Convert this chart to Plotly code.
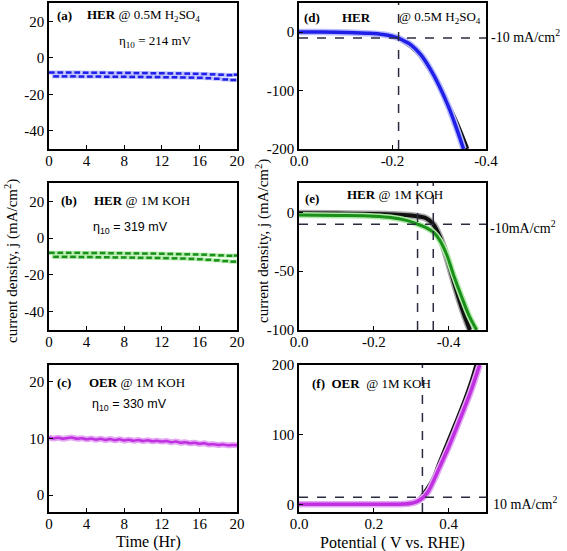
import plotly.graph_objects as go

# ---------------- data ----------------
# (a) HER @ 0.5M H2SO4 stability
ta_top = [0.3, 1.2, 2.1, 3.0, 3.9, 4.8, 5.7, 6.6, 7.5, 8.4, 9.3, 10.2, 11.1, 12.0, 12.9, 13.8, 14.7, 15.6, 16.5, 17.4, 18.3, 19.2, 19.95]
ja_top = [-8.1, -8.1, -8.1, -8.1, -8.2, -8.2, -8.2, -8.3, -8.3, -8.3, -8.4, -8.4, -8.5, -8.5, -8.6, -8.6, -8.7, -8.8, -8.9, -9.1, -9.3, -9.5, -9.3]
ta_bot = [0.75, 1.65, 2.55, 3.45, 4.35, 5.25, 6.15, 7.05, 7.95, 8.85, 9.75, 10.65, 11.55, 12.45, 13.35, 14.25, 15.15, 16.05, 16.95, 17.85, 18.75, 19.6]
ja_bot = [-10.2, -10.2, -10.2, -10.3, -10.3, -10.3, -10.4, -10.4, -10.4, -10.5, -10.5, -10.6, -10.6, -10.7, -10.7, -10.8, -10.9, -11.0, -11.2, -11.5, -11.9, -12.2]

# (b) HER @ 1M KOH stability
tb_top = [0.3, 1.2, 2.1, 3.0, 3.9, 4.8, 5.7, 6.6, 7.5, 8.4, 9.3, 10.2, 11.1, 12.0, 12.9, 13.8, 14.7, 15.6, 16.5, 17.4, 18.3, 19.2, 19.95]
jb_top = [-8.0, -8.0, -8.0, -8.0, -8.1, -8.1, -8.1, -8.2, -8.2, -8.3, -8.3, -8.4, -8.4, -8.5, -8.6, -8.7, -8.8, -8.9, -9.0, -9.2, -9.4, -9.6, -9.5]
tb_bot = [0.75, 1.65, 2.55, 3.45, 4.35, 5.25, 6.15, 7.05, 7.95, 8.85, 9.75, 10.65, 11.55, 12.45, 13.35, 14.25, 15.15, 16.05, 16.95, 17.85, 18.75, 19.6]
jb_bot = [-10.2, -10.2, -10.2, -10.3, -10.3, -10.4, -10.4, -10.5, -10.5, -10.6, -10.7, -10.7, -10.8, -10.9, -11.0, -11.1, -11.3, -11.5, -11.8, -12.1, -12.5, -12.8]

# (c) OER @ 1M KOH stability
tc = [0, 0.5, 1.0, 1.5, 2.0, 2.5, 3.0, 3.5, 4.0, 4.5, 5.0, 5.5, 6.0, 6.5, 7.0, 7.5, 8.0, 8.5, 9.0, 9.5, 10.0,
      10.5, 11.0, 11.5, 12.0, 12.5, 13.0, 13.5, 14.0, 14.5, 15.0, 15.5, 16.0, 16.5, 17.0, 17.5, 18.0, 18.5, 19.0, 19.5, 20.0]
jc = [10.2, 10.0, 10.15, 9.95, 10.1, 10.15, 9.95, 10.05, 9.85, 10.0, 9.8, 9.95, 9.75, 9.9, 9.7, 9.85, 9.65, 9.8, 9.6, 9.75, 9.55,
      9.7, 9.5, 9.6, 9.45, 9.55, 9.35, 9.45, 9.25, 9.35, 9.15, 9.25, 9.05, 9.15, 8.95, 9.0, 8.85, 8.95, 8.8, 8.85, 8.8]

# (d) HER LSV @ 0.5M H2SO4
vd_blue = [0, -0.05, -0.10, -0.15, -0.18, -0.20, -0.213, -0.225, -0.24, -0.26, -0.28, -0.30, -0.32, -0.335, -0.352]
jd_blue = [0.5, 0.3, -0.5, -2, -4, -7, -10, -15, -22, -38, -62, -92, -128, -160, -200]
vd_black = [0, -0.05, -0.10, -0.15, -0.18, -0.20, -0.213, -0.225, -0.24, -0.26, -0.28, -0.30, -0.32, -0.34, -0.36]
jd_black = [0, -0.2, -0.8, -2.5, -5, -8, -11, -17, -25, -41, -65, -93, -125, -160, -200]
eta_d = -0.213

# (e) HER LSV @ 1M KOH
ve_black = [0, -0.1, -0.2, -0.25, -0.3, -0.32, -0.34, -0.359, -0.377, -0.395, -0.413, -0.43, -0.445, -0.457]
je_black = [-0.8, -1.0, -1.3, -1.7, -2.7, -3.5, -5.0, -10, -21, -38, -58, -76, -90, -100]
ve_green = [0, -0.1, -0.2, -0.25, -0.29, -0.317, -0.34, -0.36, -0.377, -0.395, -0.413, -0.435, -0.455, -0.475]
je_green = [-2.3, -2.6, -3.2, -4.5, -7, -10, -13, -17, -24, -36, -53, -72, -88, -100]
eta_e = [-0.317, -0.359]

# (f) OER LSV @ 1M KOH
vf_black = [0, 0.1, 0.2, 0.25, 0.28, 0.30, 0.315, 0.326, 0.34, 0.36, 0.375, 0.40, 0.42, 0.44, 0.46, 0.474]
jf_black = [0, 0, 0, 0.2, 0.7, 2, 5, 10, 20, 38, 59, 92, 118, 145, 175, 200]
vf_violet = [0, 0.1, 0.2, 0.25, 0.28, 0.30, 0.315, 0.33, 0.345, 0.36, 0.375, 0.40, 0.42, 0.44, 0.46, 0.483]
jf_violet = [0, 0, 0, 0.1, 0.5, 1.5, 4, 9, 18, 34, 52, 82, 108, 135, 163, 200]
eta_f = 0.33

# ---------------- styles ----------------
W, H = 567, 551
SERIF = "Liberation Serif, Times New Roman, serif"
SANS = "Liberation Sans, Arial, sans-serif"
BLUE, BLUE_L = "#1f1fe8", "#b8bcff"
GREEN, GREEN_L = "#1a8f1a", "#b0eaa8"
VIOL, VIOL_L = "#c030e0", "#e4a8f4"
DASH = "#2b2b40"


def xd(l, r):
    return [l / W, r / W]


def yd(t, b):
    return [1 - b / H, 1 - t / H]


LEFT = xd(49, 237)
RIGHT = xd(299, 486)
ROW1 = yd(3, 149)
ROW2 = yd(183, 330)
ROW3 = yd(365, 512)

fig = go.Figure()


def dashes(x, y, col, colL, ax):
    fig.add_trace(go.Scatter(x=x, y=y, mode="markers", xaxis="x" + ax, yaxis="y" + ax,
                             marker=dict(symbol="line-ew", size=6, line=dict(width=4, color=colL)),
                             showlegend=False, hoverinfo="skip"))
    fig.add_trace(go.Scatter(x=x, y=y, mode="markers", xaxis="x" + ax, yaxis="y" + ax,
                             marker=dict(symbol="line-ew", size=4, line=dict(width=2.5, color=col)),
                             showlegend=False, hoverinfo="skip"))


dashes(ta_top, ja_top, BLUE, BLUE_L, "")
dashes(ta_bot, ja_bot, BLUE, BLUE_L, "")
dashes(tb_top, jb_top, GREEN, GREEN_L, "2")
dashes(tb_bot, jb_bot, GREEN, GREEN_L, "2")

fig.add_trace(go.Scatter(x=tc, y=jc, mode="lines", xaxis="x3", yaxis="y3",
                         line=dict(color=VIOL_L, width=6, shape="spline"), showlegend=False))
fig.add_trace(go.Scatter(x=tc, y=jc, mode="lines", xaxis="x3", yaxis="y3",
                         line=dict(color=VIOL, width=2.5, shape="spline"), showlegend=False))


def curve(x, y, col, width, ax, colL=None):
    if colL:
        fig.add_trace(go.Scatter(x=x, y=y, mode="lines", xaxis="x" + ax, yaxis="y" + ax,
                                 line=dict(color=colL, width=width + 3, shape="spline"), showlegend=False))
    fig.add_trace(go.Scatter(x=x, y=y, mode="lines", xaxis="x" + ax, yaxis="y" + ax,
                             line=dict(color=col, width=width, shape="spline"), showlegend=False))


def hline(ax, x0, x1, y):
    fig.add_shape(type="line", xref="x" + ax, yref="y" + ax, x0=x0, x1=x1, y0=y, y1=y,
                  line=dict(color=DASH, width=1.5, dash="dash"))


def vline(ax, x, y0, y1):
    fig.add_shape(type="line", xref="x" + ax, yref="y" + ax, x0=x, x1=x, y0=y0, y1=y1,
                  line=dict(color=DASH, width=1.5, dash="dash"))


curve(vd_black, jd_black, "#111111", 4, "4")
curve(vd_blue, jd_blue, BLUE, 3.5, "4", BLUE_L)
hline("4", 0, -0.4, -10)
vline("4", eta_d, -200, 50)

curve(ve_black, je_black, "#111111", 4, "5", "#a8a8a8")
curve(ve_green, je_green, GREEN, 3, "5", GREEN_L)
hline("5", 0, -0.5, -10)
for v in eta_e:
    vline("5", v, -100, 25)

curve(vf_black, jf_black, "#111111", 4, "6")
curve(vf_violet, jf_violet, VIOL, 3.5, "6", VIOL_L)
hline("6", 0, 0.5, 10)
vline("6", eta_f, -11, 200)

axbase = dict(showline=True, linecolor="black", linewidth=1.5, mirror=True, ticks="inside",
              ticklen=4, tickcolor="black", showgrid=False, zeroline=False, automargin=False,
              tickfont=dict(family=SERIF, size=15, color="black"))


def axis(dom, anchor, rng, tickvals, ticktext, standoff):
    d = dict(axbase)
    d.update(domain=dom, anchor=anchor, range=rng, tickvals=tickvals, ticktext=ticktext,
             ticklabelstandoff=standoff)
    return d


time_ticks = [0, 4, 8, 12, 16, 20]
time_text = ["0", "4", "8", "12", "16", "20"]
XS, YS = -3, 0

fig.update_layout(
    width=W, height=H, margin=dict(l=0, r=0, t=0, b=0, autoexpand=False),
    paper_bgcolor="white", plot_bgcolor="white", showlegend=False,
    xaxis=axis(LEFT, "y", [0, 20], time_ticks, time_text, XS),
    yaxis=axis(ROW1, "x", [-50, 30], [-40, -20, 0, 20], ["-40", "-20", "0", "20"], YS),
    xaxis2=axis(LEFT, "y2", [0, 20], time_ticks, time_text, XS),
    yaxis2=axis(ROW2, "x2", [-50, 30], [-40, -20, 0, 20], ["-40", "-20", "0", "20"], YS),
    xaxis3=axis(LEFT, "y3", [0, 20], time_ticks, time_text, XS),
    yaxis3=axis(ROW3, "x3", [-3, 23], [0, 10, 20], ["0", "10", "20"], YS),
    xaxis4=axis(RIGHT, "y4", [0, -0.4], [0, -0.2, -0.4], ["0.0", "-0.2", "-0.4"], XS),
    yaxis4=axis(ROW1, "x4", [-200, 50], [-200, -100, 0], ["-200", "-100", "0"], YS),
    xaxis5=axis(RIGHT, "y5", [0, -0.5], [0, -0.2, -0.4], ["0.0", "-0.2", "-0.4"], XS),
    yaxis5=axis(ROW2, "x5", [-100, 25], [-100, -50, 0], ["-100", "-50", "0"], YS),
    xaxis6=axis(RIGHT, "y6", [0, 0.5], [0, 0.2, 0.4], ["0.0", "0.2", "0.4"], XS),
    yaxis6=axis(ROW3, "x6", [-11, 200], [0, 100, 200], ["0", "100", "200"], YS),
)


def ann(text, x, y, size=13, family=SERIF, xanchor="left", angle=0):
    fig.add_annotation(text=text, x=x / W, y=1 - y / H, xref="paper", yref="paper",
                       xanchor=xanchor, yanchor="middle", showarrow=False, textangle=angle,
                       font=dict(family=family, size=size, color="black"))


ann("<b>(a)</b>", 55, 15)
ann("<b>HER</b> @ 0.5M H<sub>2</sub>SO<sub>4</sub>", 85, 15)
ann("η<sub>10</sub> = 214 mV", 117, 41)
ann("<b>(b)</b>", 59, 200)
ann("<b>HER</b> @ 1M KOH", 92, 200)
ann("η<sub>10</sub> = 319 mV", 91, 228, family=SANS, size=12.5)
ann("<b>(c)</b>", 55, 382)
ann("<b>OER</b> @ 1M KOH", 87, 382)
ann("η<sub>10</sub> = 330 mV", 90, 405, family=SANS, size=12.5)

ann("<b>(d)</b>", 302, 17)
ann("<b>HER</b>", 340, 17)
ann("@ 0.5M H<sub>2</sub>SO<sub>4</sub>", 397, 17)
ann("-10 mA/cm<sup>2</sup>", 489, 36, size=14)
ann("<b>(e)</b>", 303, 198)
ann("<b>HER</b> @ 1M KOH", 345, 194)
ann("-10mA/cm<sup>2</sup>", 488, 227, size=14)
ann("<b>(f)</b>  <b>OER</b>  @ 1M KOH", 310, 383)
ann("10 mA/cm<sup>2</sup>", 491, 503, size=14)

ann("current density, j (mA/cm<sup>2</sup>)", 12, 261, size=15, xanchor="center", angle=-90)
ann("current density, j (mA/cm<sup>2</sup>)", 263, 241, size=15, xanchor="center", angle=-90)
ann("Time (Hr)", 148, 542, size=16, xanchor="center")
ann("Potential ( V vs. RHE)", 392, 543, size=16, xanchor="center")

fig.write_html("out.html", config={"displayModeBar": False},
               post_script="document.body.style.margin='0';document.body.style.padding='0';")
